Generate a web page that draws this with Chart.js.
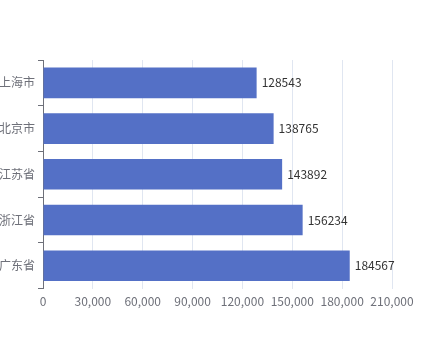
<!DOCTYPE html>
<html>
<head>
<meta charset="utf-8">
<script src="https://cdn.jsdelivr.net/npm/chart.js@4.4.0/dist/chart.umd.min.js"></script>
<style>
  html, body { margin: 0; padding: 0; background: #fff; }
  #wrap { width: 436px; height: 360px; position: relative; }
</style>
</head>
<body>
<div id="wrap"><canvas id="grafico"></canvas></div>
<script>
// datos del grafico
const provincias = ['上海市', '北京市', '江苏省', '浙江省', '广东省'];
const valores = [128543, 138765, 143892, 156234, 184567];
const ejeMax = 210000;
const ejePaso = 30000;

const fuente = "'Noto Sans CJK SC', sans-serif";

// plugin para escribir el valor al lado de cada barra
const etiquetasBarras = {
    id: 'etiquetasBarras',
    afterDatasetsDraw(chart) {
        const ctx = chart.ctx;
        const meta = chart.getDatasetMeta(0);
        ctx.save();
        ctx.font = '12px ' + fuente;
        ctx.fillStyle = '#333';
        ctx.textAlign = 'left';
        ctx.textBaseline = 'middle';
        meta.data.forEach((barra, i) => {
            ctx.fillText(String(valores[i]), barra.x + 5, barra.y);
        });
        ctx.restore();
    }
};

const ctx = document.getElementById('grafico').getContext('2d');
new Chart(ctx, {
    type: 'bar',
    data: {
        labels: provincias,
        datasets: [{
            data: valores,
            backgroundColor: '#5470c6',
            borderWidth: 0,
            categoryPercentage: 1,
            barPercentage: 0.67
        }]
    },
    options: {
        indexAxis: 'y',
        responsive: true,
        maintainAspectRatio: false,
        animation: false,
        layout: { padding: { top: 60, right: 44, bottom: 45, left: 0 } },
        plugins: {
            legend: { display: false },
            tooltip: { enabled: false }
        },
        scales: {
            x: {
                min: 0,
                max: ejeMax,
                ticks: {
                    stepSize: ejePaso,
                    color: '#6E7079',
                    padding: 6,
                    font: { size: 12, family: fuente },
                    callback: v => v.toLocaleString('en-US')
                },
                grid: { color: '#E0E6F1', drawTicks: false },
                border: { display: false }
            },
            y: {
                offset: true,
                afterFit: s => { s.width = 43; },
                ticks: {
                    color: '#6E7079',
                    padding: 3,
                    font: { size: 12, family: fuente }
                },
                grid: {
                    offset: true,
                    drawOnChartArea: false,
                    drawTicks: true,
                    tickLength: 5,
                    color: '#6E7079'
                },
                border: { display: true, color: '#6E7079' }
            }
        }
    },
    plugins: [etiquetasBarras]
});
</script>
</body>
</html>
